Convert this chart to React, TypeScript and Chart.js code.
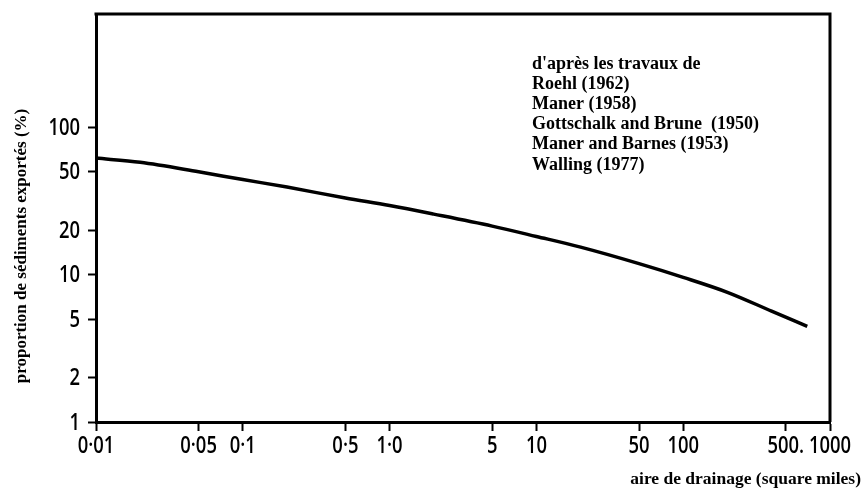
import React, { useEffect, useRef } from "react";
import { Chart, registerables } from "chart.js";

Chart.register(...registerables);

const areaValues = [0.01, 0.02, 0.05, 0.1, 0.2, 0.5, 1, 2, 5, 10, 20, 50, 100, 200, 400, 700];
const proportionValues = [62, 58, 50, 44.3, 39.4, 33.2, 29.5, 25.8, 21.4, 18.2, 15.4, 11.9, 9.6, 7.6, 5.66, 4.46];

const xTickValues = [0.01, 0.05, 0.1, 0.5, 1, 5, 10, 50, 100, 500, 1000];
const xTickLabels = ["0·01", "0·05", "0·1", "0·5", "1·0", "5", "10", "50", "100", "500.", "1000"];
const yTickValues = [1, 2, 5, 10, 20, 50, 100];
const yTickLabels = ["1", "2", "5", "10", "20", "50", "100"];

const sourceLines = [
  "d'après les travaux de",
  "Roehl (1962)",
  "Maner (1958)",
  "Gottschalk and Brune  (1950)",
  "Maner and Barnes (1953)",
  "Walling (1977)",
];
const xTitle = "aire de drainage (square miles)";
const yTitle = "proportion de sédiments exportés (%)";

const TICK_FONT = "600 23px 'Open Sans', 'DejaVu Sans', sans-serif";
const SERIF = "'Liberation Serif', 'DejaVu Serif', serif";

export default function App() {
  const canvasRef = useRef<HTMLCanvasElement | null>(null);

  useEffect(() => {
    const canvas = canvasRef.current;
    if (!canvas) return;

    const drawNarrow = (ctx: CanvasRenderingContext2D, text: string, x: number, y: number, align: CanvasTextAlign) => {
      ctx.save();
      ctx.translate(x, y);
      ctx.scale(0.8, 1);
      ctx.textAlign = align;
      ctx.fillText(text, 0, 0);
      ctx.restore();
    };

    const textPlugin = {
      id: "texts",
      afterDraw(chart: any) {
        const ctx = chart.ctx as CanvasRenderingContext2D;
        const area = chart.chartArea;
        const xs = chart.scales.x;
        const ys = chart.scales.y;
        ctx.save();
        // frame top and right
        ctx.strokeStyle = "#000";
        ctx.lineWidth = 3;
        ctx.beginPath();
        ctx.moveTo(area.left - 1.5, area.top);
        ctx.lineTo(area.right, area.top);
        ctx.lineTo(area.right, area.bottom);
        ctx.stroke();

        ctx.fillStyle = "#000";
        // tick labels
        ctx.font = TICK_FONT;
        ctx.textBaseline = "middle";
        xTickValues.forEach((v, i) => {
          drawNarrow(ctx, xTickLabels[i], xs.getPixelForValue(v), area.bottom + 24, "center");
        });
        yTickValues.forEach((v, i) => {
          drawNarrow(ctx, yTickLabels[i], area.left - 16, ys.getPixelForValue(v) + 1, "right");
        });

        ctx.font = `bold 18px ${SERIF}`;
        ctx.textAlign = "left";
        ctx.textBaseline = "middle";
        sourceLines.forEach((line, i) => {
          ctx.fillText(line, 532, 64 + i * 20.2);
        });

        ctx.textAlign = "right";
        ctx.font = `bold 17.5px ${SERIF}`;
        ctx.fillText(xTitle, 861, 479);

        ctx.translate(22, 246);
        ctx.rotate(-Math.PI / 2);
        ctx.textAlign = "center";
        ctx.font = `bold 17px ${SERIF}`;
        ctx.fillText(yTitle, 0, 0);
        ctx.restore();
      },
    };

    const chart = new Chart(canvas, {
      type: "line",
      data: {
        datasets: [
          {
            data: areaValues.map((x, i) => ({ x, y: proportionValues[i] })),
            borderColor: "#000",
            borderWidth: 3.5,
            pointRadius: 0,
            tension: 0.4,
            cubicInterpolationMode: "monotone",
            fill: false,
          },
        ],
      },
      options: {
        animation: false,
        responsive: false,
        maintainAspectRatio: false,
        layout: { padding: { left: 0, right: 34, top: 14, bottom: 0 } },
        plugins: { legend: { display: false }, tooltip: { enabled: false } },
        scales: {
          x: {
            type: "logarithmic",
            min: 0.01,
            max: 1000,
            afterBuildTicks: (scale: any) => {
              scale.ticks = xTickValues.map((v) => ({ value: v }));
            },
            afterFit: (scale: any) => {
              scale.height = 73;
            },
            ticks: { display: false },
            grid: {
              display: true,
              drawOnChartArea: false,
              drawTicks: true,
              tickLength: 9,
              tickWidth: 2,
              tickColor: "#000",
            },
            border: { display: true, color: "#000", width: 3 },
          },
          y: {
            type: "logarithmic",
            min: 1,
            max: 590,
            afterBuildTicks: (scale: any) => {
              scale.ticks = yTickValues.map((v) => ({ value: v }));
            },
            afterFit: (scale: any) => {
              scale.width = 96;
            },
            ticks: { display: false },
            grid: {
              display: true,
              drawOnChartArea: false,
              drawTicks: true,
              tickLength: 8,
              tickWidth: 2,
              tickColor: "#000",
            },
            border: { display: true, color: "#000", width: 3 },
          },
        },
      },
      plugins: [textPlugin],
    } as any);

    return () => chart.destroy();
  }, []);

  return (
    <div style={{ position: "absolute", left: 0, top: 0, width: 864, height: 495, background: "#fff" }}>
      <canvas ref={canvasRef} width={864} height={495} style={{ width: 864, height: 495, display: "block" }} />
    </div>
  );
}
